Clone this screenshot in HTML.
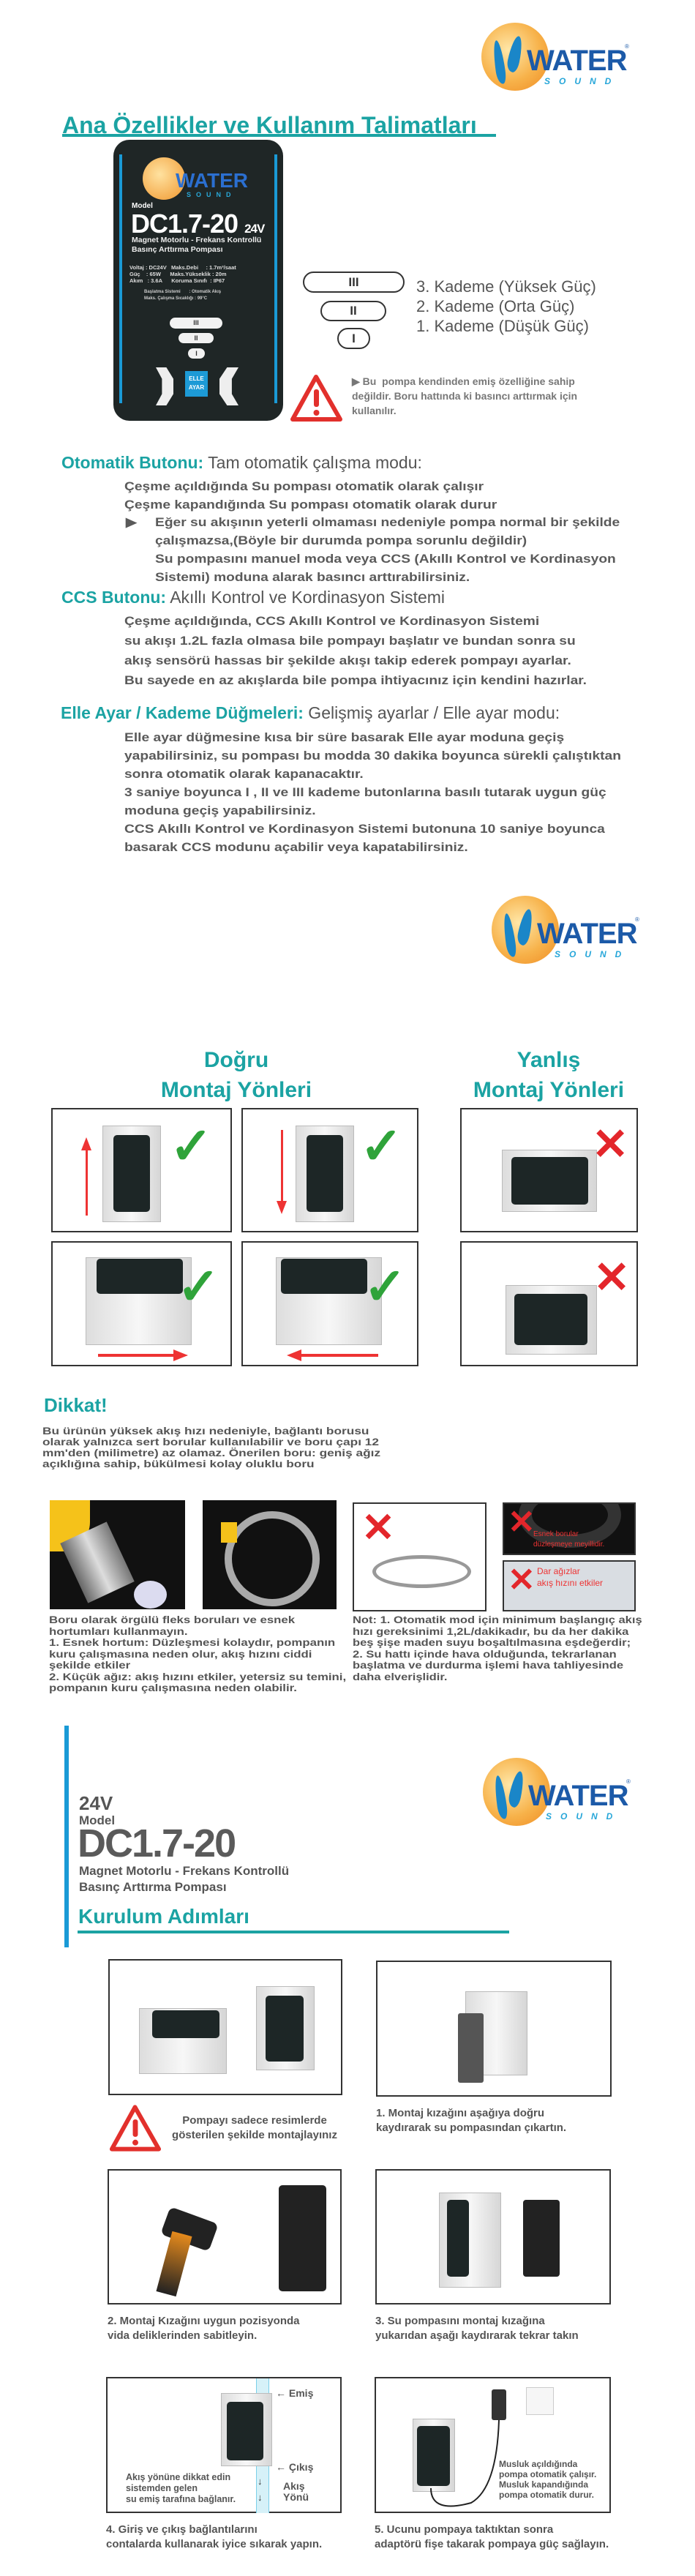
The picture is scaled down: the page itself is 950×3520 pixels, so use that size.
<!DOCTYPE html>
<html><head><meta charset="utf-8">
<style>
*{margin:0;padding:0;box-sizing:border-box}
body{width:950px;height:3520px;background:#fff;position:relative;overflow:hidden;font-family:"Liberation Sans Narrow","Liberation Sans",sans-serif;color:#555}
.a{position:absolute;white-space:nowrap}
.teal{color:#1ba3a3;font-weight:bold}
.logo{position:absolute;width:210px;height:95px}
.logo .c{position:absolute;left:0;top:0;width:92px;height:93px;border-radius:50%;background:radial-gradient(circle at 40% 40%,#ffe7a8,#f7b24a 55%,#ef8a22)}
.logo .d1,.logo .d2{position:absolute;background:#1a86c8;border-radius:50% 50% 40% 60%/70% 70% 30% 30%}
.logo .d1{left:18px;top:24px;width:13px;height:60px;transform:rotate(-8deg)}
.logo .d2{left:38px;top:18px;width:16px;height:50px;transform:rotate(12deg)}
.logo .w{position:absolute;left:62px;top:30px;font:bold 40px "Liberation Sans Narrow","Liberation Sans",sans-serif;color:#1c5aa8;letter-spacing:-1px}
.logo .s{position:absolute;left:86px;top:73px;font:italic bold 12px "Liberation Sans",sans-serif;color:#26a6d9;letter-spacing:12px}
.logo .r{position:absolute;left:196px;top:28px;font-size:8px;color:#1c5aa8}
.p{font-size:17px;line-height:25px;font-weight:bold;color:#5a5a5a;transform:scaleX(1.13);transform-origin:left top}
.box{position:absolute;border:2px solid #333;background:#fff}
.pump{position:absolute;background:linear-gradient(90deg,#ddd,#f7f7f7,#d6d6d6);border:1px solid #bbb}
.pan{position:absolute;background:#1d2626;border-radius:5px}
.chk{position:absolute;color:#2fa33a;font-size:70px;font-weight:bold;line-height:1}
.x{position:absolute;color:#e3262b;font-size:60px;font-weight:bold;line-height:1}
.blk{position:absolute;background:#111}
.sm{font-size:14px;line-height:15.5px;font-weight:bold;color:#555;transform-origin:left top}
.st{font-size:15px;line-height:20px;font-weight:bold;color:#555}
</style></head><body>

<div class="logo" style="left:658px;top:31px"><div class="c"></div><div class="d1"></div><div class="d2"></div><div class="w">WATER</div><div class="s">SOUND</div><div class="r">®</div></div>

<div class="a teal" style="left:85px;top:153px;font-size:32px">Ana Özellikler ve Kullanım Talimatları</div>
<div class="a" style="left:85px;top:183px;width:593px;height:4px;background:#1ba3a3"></div>

<div class="a" style="left:155px;top:191px;width:232px;height:384px;background:#1f2626;border-radius:22px;overflow:hidden">
  <div style="position:absolute;left:8px;top:20px;width:4px;height:340px;background:#1a9ad6"></div>
  <div style="position:absolute;right:8px;top:20px;width:4px;height:340px;background:#1a9ad6"></div>
  <div style="position:absolute;left:40px;top:24px;width:58px;height:58px;border-radius:50%;background:radial-gradient(circle at 40% 40%,#ffe2a0,#f0962d)"></div>
  <div style="position:absolute;left:85px;top:40px;font:bold 28px 'Liberation Sans Narrow','Liberation Sans',sans-serif;color:#2b6fd0">WATER</div>
  <div style="position:absolute;left:100px;top:70px;font:bold 9px 'Liberation Sans',sans-serif;color:#29a8d8;letter-spacing:7px">SOUND</div>
  <div style="position:absolute;left:25px;top:85px;font:bold 10px 'Liberation Sans',sans-serif;color:#fff">Model</div>
  <div style="position:absolute;left:24px;top:94px;font:bold 36px 'Liberation Sans',sans-serif;color:#fff;letter-spacing:-1px">DC1.7-20 <span style="font-size:17px">24V</span></div>
  <div style="position:absolute;left:25px;top:131px;font:bold 10.5px/13px 'Liberation Sans Narrow','Liberation Sans',sans-serif;color:#eee">Magnet Motorlu - Frekans Kontrollü<br>Basınç Arttırma Pompası</div>
  <div style="position:absolute;left:22px;top:170px;font:bold 7.5px/9px 'Liberation Sans',sans-serif;color:#ddd">Voltaj : DC24V &nbsp; Maks.Debi &nbsp;&nbsp;&nbsp; : 1.7m³/saat<br>Güç &nbsp;&nbsp; : 65W &nbsp;&nbsp;&nbsp;&nbsp; Maks.Yükseklik : 20m<br>Akım &nbsp; : 3.6A &nbsp;&nbsp;&nbsp;&nbsp; Koruma Sınıfı &nbsp;: IP67</div>
  <div style="position:absolute;left:42px;top:204px;font:bold 6px/9px 'Liberation Sans',sans-serif;color:#ccc">Başlatma Sistemi &nbsp;&nbsp;&nbsp;&nbsp;&nbsp;&nbsp;: Otomatik Akış<br>Maks. Çalışma Sıcaklığı : 99°C</div>
  <div style="position:absolute;left:77px;top:243px;width:72px;height:15px;border-radius:8px;background:#f2f2f2;font:bold 9px/15px sans-serif;text-align:center;color:#333">III</div>
  <div style="position:absolute;left:89px;top:264px;width:48px;height:14px;border-radius:8px;background:#f2f2f2;font:bold 9px/14px sans-serif;text-align:center;color:#333">II</div>
  <div style="position:absolute;left:102px;top:285px;width:23px;height:14px;border-radius:8px;background:#f2f2f2;font:bold 9px/14px sans-serif;text-align:center;color:#333">I</div>
  <div style="position:absolute;left:58px;top:311px;width:24px;height:52px;background:#eee;clip-path:polygon(0 0,60% 0,100% 30%,100% 70%,60% 100%,0 100%,35% 70%,35% 30%)"></div>
  <div style="position:absolute;left:145px;top:311px;width:26px;height:52px;background:#eee;clip-path:polygon(40% 0,100% 0,65% 30%,65% 70%,100% 100%,40% 100%,0 70%,0 30%)"></div>
  <div style="position:absolute;left:98px;top:316px;width:31px;height:35px;background:#1d9ad6;font:bold 8px/12px sans-serif;color:#fff;text-align:center;padding-top:5px">ELLE<br>AYAR</div>
</div>

<div class="a" style="left:414px;top:371px;width:139px;height:29px;border:2px solid #333;border-radius:15px;text-align:center;font:bold 17px/25px sans-serif;color:#333">III</div>
<div class="a" style="left:438px;top:411px;width:90px;height:28px;border:2px solid #333;border-radius:15px;text-align:center;font:bold 17px/24px sans-serif;color:#333">II</div>
<div class="a" style="left:461px;top:448px;width:45px;height:29px;border:2px solid #333;border-radius:15px;text-align:center;font:bold 17px/25px sans-serif;color:#333">I</div>
<div class="a" style="left:569px;top:378px;font-size:22px;line-height:27px;color:#555">3. Kademe (Yüksek Güç)<br>2. Kademe (Orta Güç)<br>1. Kademe (Düşük Güç)</div>

<svg class="a" style="left:395px;top:510px" width="75" height="68" viewBox="0 0 75 68"><path d="M37 5 L70 63 L5 63 Z" fill="#fff" stroke="#e2302c" stroke-width="6" stroke-linejoin="round"/><rect x="34" y="22" width="7" height="24" rx="3" fill="#e2302c"/><circle cx="37.5" cy="54" r="4" fill="#e2302c"/></svg>
<div class="a" style="left:481px;top:511px;font-size:14px;line-height:20px;font-weight:bold;color:#777">▶ Bu &nbsp;pompa kendinden emiş özelliğine sahip<br>değildir. Boru hattında ki basıncı arttırmak için<br>kullanılır.</div>

<div class="a" style="left:84px;top:619px;font-size:23px;color:#555"><span class="teal">Otomatik Butonu:</span> Tam otomatik çalışma modu:</div>
<div class="a p" style="left:170px;top:652px">Çeşme açıldığında Su pompası otomatik olarak çalışır<br>Çeşme kapandığında Su pompası otomatik olarak durur</div>
<div class="a p" style="left:172px;top:701px">▶</div>
<div class="a p" style="left:212px;top:701px">Eğer su akışının yeterli olmaması nedeniyle pompa normal bir şekilde<br>çalışmazsa,(Böyle bir durumda pompa sorunlu değildir)<br>Su pompasını manuel moda veya CCS (Akıllı Kontrol ve Kordinasyon<br>Sistemi) moduna alarak basıncı arttırabilirsiniz.</div>

<div class="a" style="left:84px;top:803px;font-size:23px;color:#555"><span class="teal">CCS Butonu:</span> Akıllı Kontrol ve Kordinasyon Sistemi</div>
<div class="a p" style="left:170px;top:835px;line-height:27px">Çeşme açıldığında, CCS Akıllı Kontrol ve Kordinasyon Sistemi<br>su akışı 1.2L fazla olmasa bile pompayı başlatır ve bundan sonra su<br>akış sensörü hassas bir şekilde akışı takip ederek pompayı ayarlar.<br>Bu sayede en az akışlarda bile pompa ihtiyacınız için kendini hazırlar.</div>

<div class="a" style="left:83px;top:961px;font-size:23px;color:#555"><span class="teal">Elle Ayar / Kademe Düğmeleri:</span> Gelişmiş ayarlar / Elle ayar modu:</div>
<div class="a p" style="left:170px;top:995px">Elle ayar düğmesine kısa bir süre basarak Elle ayar moduna geçiş<br>yapabilirsiniz, su pompası bu modda 30 dakika boyunca sürekli çalıştıktan<br>sonra otomatik olarak kapanacaktır.<br>3 saniye boyunca I , II ve III kademe butonlarına basılı tutarak uygun güç<br>moduna geçiş yapabilirsiniz.<br>CCS Akıllı Kontrol ve Kordinasyon Sistemi butonuna 10 saniye boyunca<br>basarak CCS modunu açabilir veya kapatabilirsiniz.</div>

<div class="logo" style="left:672px;top:1224px"><div class="c"></div><div class="d1"></div><div class="d2"></div><div class="w">WATER</div><div class="s">SOUND</div><div class="r">®</div></div>

<div class="a teal" style="left:173px;top:1428px;width:300px;text-align:center;font-size:30px;line-height:41px">Doğru<br>Montaj Yönleri</div>
<div class="a teal" style="left:600px;top:1428px;width:300px;text-align:center;font-size:30px;line-height:41px">Yanlış<br>Montaj Yönleri</div>

<div class="box" style="left:70px;top:1514px;width:247px;height:170px">
  <div class="pump" style="left:68px;top:22px;width:80px;height:132px"></div><div class="pan" style="left:83px;top:35px;width:50px;height:105px"></div>
  <div style="position:absolute;left:45px;top:45px;width:3px;height:100px;background:#e33"></div><div style="position:absolute;left:39px;top:38px;border:7px solid transparent;border-bottom:18px solid #e33;border-top:0"></div>
  <div class="chk" style="left:160px;top:15px">✓</div>
</div>
<div class="box" style="left:330px;top:1514px;width:242px;height:170px">
  <div class="pump" style="left:72px;top:22px;width:80px;height:132px"></div><div class="pan" style="left:87px;top:35px;width:50px;height:105px"></div>
  <div style="position:absolute;left:52px;top:28px;width:3px;height:100px;background:#e33"></div><div style="position:absolute;left:46px;top:125px;border:7px solid transparent;border-top:18px solid #e33;border-bottom:0"></div>
  <div class="chk" style="left:160px;top:15px">✓</div>
</div>
<div class="box" style="left:629px;top:1514px;width:243px;height:170px">
  <div class="pump" style="left:55px;top:55px;width:130px;height:85px"></div><div class="pan" style="left:68px;top:65px;width:105px;height:65px"></div>
  <div class="x" style="left:178px;top:18px">✕</div>
</div>
<div class="box" style="left:70px;top:1696px;width:247px;height:171px">
  <div class="pump" style="left:45px;top:20px;width:145px;height:120px"></div><div class="pan" style="left:60px;top:22px;width:118px;height:48px"></div>
  <div style="position:absolute;left:62px;top:152px;width:110px;height:4px;background:#e33"></div><div style="position:absolute;left:165px;top:146px;border:8px solid transparent;border-left:20px solid #e33;border-right:0"></div>
  <div class="chk" style="left:170px;top:25px">✓</div>
</div>
<div class="box" style="left:330px;top:1696px;width:242px;height:171px">
  <div class="pump" style="left:45px;top:20px;width:145px;height:120px"></div><div class="pan" style="left:52px;top:22px;width:118px;height:48px"></div>
  <div style="position:absolute;left:75px;top:152px;width:110px;height:4px;background:#e33"></div><div style="position:absolute;left:60px;top:146px;border:8px solid transparent;border-right:20px solid #e33;border-left:0"></div>
  <div class="chk" style="left:165px;top:25px">✓</div>
</div>
<div class="box" style="left:629px;top:1696px;width:243px;height:171px">
  <div class="pump" style="left:60px;top:58px;width:125px;height:95px"></div><div class="pan" style="left:72px;top:70px;width:100px;height:70px"></div>
  <div class="x" style="left:180px;top:18px">✕</div>
</div>

<div class="a teal" style="left:60px;top:1905px;font-size:26px">Dikkat!</div>
<div class="a sm" style="left:58px;top:1948px;line-height:15px;font-size:13.5px;transform:scaleX(1.28)">Bu ürünün yüksek akış hızı nedeniyle, bağlantı borusu<br>olarak yalnızca sert borular kullanılabilir ve boru çapı 12<br>mm'den (milimetre) az olamaz. Önerilen boru: geniş ağız<br>açıklığına sahip, bükülmesi kolay oluklu boru</div>

<div class="blk" style="left:68px;top:2050px;width:185px;height:149px">
  <div style="position:absolute;left:0;top:0;width:55px;height:70px;background:#f5c21a;border-radius:0 0 40px 0"></div>
  <div style="position:absolute;left:30px;top:40px;width:70px;height:90px;background:linear-gradient(90deg,#666,#ddd,#777);transform:rotate(-25deg)"></div>
  <div style="position:absolute;left:115px;top:110px;width:45px;height:38px;border-radius:50%;background:#dcdcf0"></div>
</div>
<div class="blk" style="left:277px;top:2050px;width:183px;height:149px">
  <div style="position:absolute;left:30px;top:15px;width:130px;height:130px;border-radius:50%;border:10px solid #aaa"></div>
  <div style="position:absolute;left:25px;top:30px;width:22px;height:28px;background:#f5c21a"></div>
</div>
<div class="box" style="left:482px;top:2053px;width:183px;height:149px">
  <div class="x" style="left:10px;top:5px;font-size:55px">✕</div>
  <div style="position:absolute;left:25px;top:70px;width:135px;height:45px;border:5px solid #999;border-radius:50%"></div>
</div>
<div class="blk" style="left:687px;top:2053px;width:182px;height:72px;border:2px solid #333;overflow:hidden">
  <div style="position:absolute;left:20px;top:-30px;width:140px;height:90px;border:18px solid #333;border-radius:50%"></div>
  <div class="x" style="left:5px;top:2px;font-size:45px">✕</div>
  <div style="position:absolute;left:40px;top:35px;font-size:10px;color:#e33;line-height:14px">Esnek borular<br>düzleşmeye meyillidir.</div>
</div>
<div class="box" style="left:687px;top:2132px;width:182px;height:70px;background:#d9dde2">
  <div class="x" style="left:5px;top:2px;font-size:45px">✕</div>
  <div style="position:absolute;left:45px;top:5px;font-size:12px;color:#e33;line-height:16px">Dar ağızlar<br>akış hızını etkiler</div>
</div>

<div class="a sm" style="left:67px;top:2206px;transform:scaleX(1.2)">Boru olarak örgülü fleks boruları ve esnek<br>hortumları kullanmayın.<br>1. Esnek hortum: Düzleşmesi kolaydır, pompanın<br>kuru çalışmasına neden olur, akış hızını ciddi<br>şekilde etkiler<br>2. Küçük ağız: akış hızını etkiler, yetersiz su temini,<br>pompanın kuru çalışmasına neden olabilir.</div>
<div class="a sm" style="left:482px;top:2206px;transform:scaleX(1.18)">Not: 1. Otomatik mod için minimum başlangıç akış<br>hızı gereksinimi 1,2L/dakikadır, bu da her dakika<br>beş şişe maden suyu boşaltılmasına eşdeğerdir;<br>2. Su hattı içinde hava olduğunda, tekrarlanan<br>başlatma ve durdurma işlemi hava tahliyesinde<br>daha elverişlidir.</div>

<div class="a" style="left:88px;top:2358px;width:6px;height:303px;background:#1a9ad6"></div>
<div class="logo" style="left:660px;top:2402px"><div class="c"></div><div class="d1"></div><div class="d2"></div><div class="w">WATER</div><div class="s">SOUND</div><div class="r">®</div></div>
<div class="a" style="left:108px;top:2450px;font-size:26px;font-weight:bold;color:#555;line-height:28px">24V</div>
<div class="a" style="left:108px;top:2478px;font-size:17px;font-weight:bold;color:#555">Model</div>
<div class="a" style="left:106px;top:2492px;font:bold 54px/54px 'Liberation Sans',sans-serif;color:#5a5a5a;letter-spacing:-2px">DC1.7-20</div>
<div class="a" style="left:108px;top:2546px;font-size:17px;font-weight:bold;color:#555;line-height:22px">Magnet Motorlu - Frekans Kontrollü<br>Basınç Arttırma Pompası</div>
<div class="a teal" style="left:107px;top:2603px;font-size:28px">Kurulum Adımları</div>
<div class="a" style="left:106px;top:2638px;width:590px;height:4px;background:#1ba3a3"></div>

<div class="box" style="left:148px;top:2677px;width:320px;height:186px">
  <div class="pump" style="left:40px;top:65px;width:120px;height:90px"></div><div class="pan" style="left:58px;top:68px;width:92px;height:38px"></div>
  <div class="pump" style="left:200px;top:35px;width:80px;height:115px"></div><div class="pan" style="left:213px;top:48px;width:52px;height:90px"></div>
</div>
<div class="box" style="left:514px;top:2679px;width:322px;height:186px">
  <div class="pump" style="left:120px;top:40px;width:85px;height:115px"></div>
  <div style="position:absolute;left:110px;top:70px;width:35px;height:95px;background:#555;border-radius:3px"></div>
</div>
<svg class="a" style="left:148px;top:2874px" width="74" height="68" viewBox="0 0 75 68"><path d="M37 5 L70 63 L5 63 Z" fill="#fff" stroke="#e2302c" stroke-width="6" stroke-linejoin="round"/><rect x="34" y="22" width="7" height="24" rx="3" fill="#e2302c"/><circle cx="37.5" cy="54" r="4" fill="#e2302c"/></svg>
<div class="a st" style="left:228px;top:2888px;width:240px;text-align:center">Pompayı sadece resimlerde<br>gösterilen şekilde montajlayınız</div>
<div class="a st" style="left:514px;top:2878px">1. Montaj kızağını aşağıya doğru<br>kaydırarak su pompasından çıkartın.</div>

<div class="box" style="left:147px;top:2964px;width:320px;height:185px">
  <div style="position:absolute;left:75px;top:60px;width:70px;height:40px;background:#222;border-radius:8px;transform:rotate(20deg)"></div>
  <div style="position:absolute;left:75px;top:85px;width:28px;height:85px;background:linear-gradient(#e58a1c,#222);transform:rotate(15deg)"></div>
  <div style="position:absolute;left:232px;top:20px;width:65px;height:145px;background:#222;border-radius:5px"></div>
</div>
<div class="box" style="left:513px;top:2964px;width:322px;height:185px">
  <div class="pump" style="left:85px;top:30px;width:85px;height:130px"></div><div class="pan" style="left:96px;top:40px;width:30px;height:105px"></div>
  <div style="position:absolute;left:200px;top:40px;width:50px;height:105px;background:#222;border-radius:4px"></div>
</div>
<div class="a st" style="left:147px;top:3162px">2. Montaj Kızağını uygun pozisyonda<br>vida deliklerinden sabitleyin.</div>
<div class="a st" style="left:513px;top:3162px">3. Su pompasını montaj kızağına<br>yukarıdan aşağı kaydırarak tekrar takın</div>

<div class="box" style="left:145px;top:3248px;width:322px;height:186px">
  <div style="position:absolute;left:203px;top:0;width:18px;height:184px;background:#d6f1f8;border-left:1px solid #7cd0ea;border-right:1px solid #7cd0ea"></div>
  <div class="pump" style="left:155px;top:20px;width:70px;height:100px"></div><div class="pan" style="left:163px;top:32px;width:50px;height:80px"></div>
  <div style="position:absolute;left:230px;top:12px;font-size:14px;font-weight:bold;color:#555">← Emiş</div>
  <div style="position:absolute;left:230px;top:113px;font-size:14px;font-weight:bold;color:#555">← Çıkış</div>
  <div style="position:absolute;left:25px;top:128px;font-size:12.5px;line-height:15px;font-weight:bold;color:#555">Akış yönüne dikkat edin<br>sistemden gelen<br>su emiş tarafına bağlanır.</div>
  <div style="position:absolute;left:205px;top:130px;font-size:13px;line-height:22px;font-weight:bold;color:#333">↓<br>↓</div>
  <div style="position:absolute;left:240px;top:140px;font-size:14px;line-height:15px;font-weight:bold;color:#555">Akış<br>Yönü</div>
</div>
<div class="box" style="left:512px;top:3248px;width:323px;height:186px">
  <div class="pump" style="left:50px;top:55px;width:58px;height:100px"></div><div class="pan" style="left:56px;top:65px;width:45px;height:82px"></div>
  <div style="position:absolute;left:158px;top:15px;width:20px;height:42px;background:#333;border-radius:3px"></div>
  <div style="position:absolute;left:205px;top:12px;width:38px;height:38px;border:1px solid #ccc;background:#f6f6f6"></div>
  <svg style="position:absolute;left:0;top:0" width="320" height="184"><path d="M75 150 Q75 185 130 170 Q165 150 168 57" fill="none" stroke="#222" stroke-width="2"/></svg>
  <div style="position:absolute;left:168px;top:110px;font-size:12px;line-height:14px;font-weight:bold;color:#555">Musluk açıldığında<br>pompa otomatik çalışır.<br>Musluk kapandığında<br>pompa otomatik durur.</div>
</div>
<div class="a st" style="left:145px;top:3447px">4. Giriş ve çıkış bağlantılarını<br>contalarda kullanarak iyice sıkarak yapın.</div>
<div class="a st" style="left:512px;top:3447px">5. Ucunu pompaya taktıktan sonra<br>adaptörü fişe takarak pompaya güç sağlayın.</div>

</body></html>
